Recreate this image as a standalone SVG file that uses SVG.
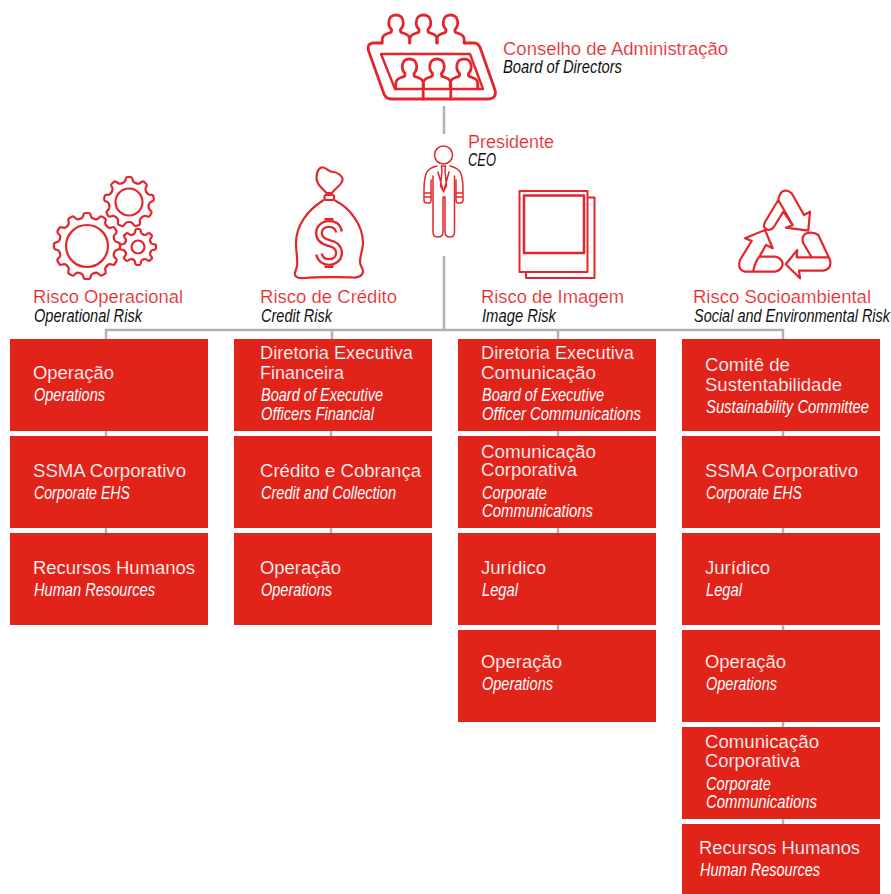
<svg xmlns="http://www.w3.org/2000/svg" xmlns:xlink="http://www.w3.org/1999/xlink" width="891" height="894" viewBox="0 0 891 894">
<style>
text{font-family:"Liberation Sans",Arial,sans-serif;font-size:18px}
.r{fill:#e3262b;stroke:#fff;stroke-width:.2}.k{fill:#111;font-style:italic}.w{fill:#fff;stroke:#e2231a;stroke-width:.2}.i{fill:#fff;font-style:italic}
.b{fill:#e2231a}.ic{fill:none;stroke:#e3262b;stroke-width:2.2;stroke-linejoin:round;stroke-linecap:round}
.th{stroke-width:1.5}.hv{stroke-width:2.8}
.c{fill:none;stroke:#adb3b8;stroke-width:2.5}
</style>
<defs>
<path id="t1" d="M-7.25-27.05Q-5-27.5-4.2-29L-3.4-31.6Q-3-33-1.6-33H1.6Q3-33 3.4-31.6L4.2-29Q5-27.5 7.25-27.05"/>
<path id="t2" d="M-6.84-18.8Q-4.4-19.5-3.8-21.3L-3.1-23.8Q-2.7-25-1.4-25H1.4Q2.7-25 3.1-23.8L3.8-21.3Q4.4-19.5 6.84-18.8"/>
<path id="t3" d="M-5.17-12.47Q-3.4-13-3-14.5L-2.6-16.7Q-2.3-18-1.2-18H1.2Q2.3-18 2.6-16.7L3-14.5Q3.4-13 5.17-12.47"/>
<path id="p" d="M-4.500 6.500C-7 4-7.500 0-7-2.500C-6.500-6-3.500-8 0-8C3.500-8 6.500-6 7-2.500C7.500 0 7 4 4.500 6.500V8Q4.500 9.500 7 10L9.500 11Q14 12.500 13.800 18V20M-4.500 6.500V8Q-4.500 9.500-7 10L-9.500 11Q-14 12.500-13.800 18V20"/>
</defs>
<g id="connectors" class="c">
<path d="M444 106V134M444 256V330M106 339V330H783V339M332 330V339M558 330V339"/>
<path d="M106 431V436M106 528V533M331 431V436M331 528V533M558 431V436M558 528V533M558 625V630M783 431V436M783 528V533M783 625V630M783 722V727M783 819V824"/>
</g>
<g id="board">
<g class="ic hv">
<path d="M382 43H373Q366 44 369 52L384 94Q386 99 391 99H489Q497 98 495 90L481 50Q479 43 474 43H464"/>
<path d="M381 54H470L483 89H395Z" stroke-width="2.400"/>
<use xlink:href="#p" x="396" y="23"/><use xlink:href="#p" x="423.500" y="23"/><use xlink:href="#p" x="450.500" y="23"/>
<use xlink:href="#p" x="409.500" y="67"/><use xlink:href="#p" x="437" y="67"/><use xlink:href="#p" x="464" y="67"/>
<path d="M395.700 87V89M423.200 87V99M450.800 87V99M477.800 87V89"/>
</g>
<text class="r" x="503" y="55" textLength="225" lengthAdjust="spacingAndGlyphs">Conselho de Administração</text>
<text class="k" x="503" y="73" textLength="119" lengthAdjust="spacingAndGlyphs">Board of Directors</text>
</g>
<g id="ceo">
<g class="ic th">
<circle cx="443.500" cy="155" r="9"/>
<path d="M437 166Q428 168 426 174Q424 180 424 190V200Q424 203 427 203H429Q431 203 431 200V180M450 166Q459 168 461 174Q463 180 463 190V200Q463 203 460 203H458Q456 203 456 200V180"/>
<path d="M433 176V232Q433 237 438 237Q443 237 443 232V197H445V232Q445 237 450 237Q454.500 237 454.500 232V176"/>
<path d="M424.500 193H431M456 193H462.500M424.500 197H431M456 197H462.500M438 172L443.500 192L449 172M441.500 166H445.500L445 171L446.500 186L443.500 191L440.500 186L442 171Z"/>
</g>
<text class="r" x="468" y="148" textLength="86" lengthAdjust="spacingAndGlyphs">Presidente</text>
<text class="k" x="468" y="166" textLength="28" lengthAdjust="spacingAndGlyphs">CEO</text>
</g>
<g id="risk-operational">
<g class="ic">
<g transform="translate(87 246)"><circle r="21"/><use xlink:href="#t1"/><use xlink:href="#t1" transform="rotate(30)"/><use xlink:href="#t1" transform="rotate(60)"/><use xlink:href="#t1" transform="rotate(90)"/><use xlink:href="#t1" transform="rotate(120)"/><use xlink:href="#t1" transform="rotate(150)"/><use xlink:href="#t1" transform="rotate(180)"/><use xlink:href="#t1" transform="rotate(210)"/><use xlink:href="#t1" transform="rotate(240)"/><use xlink:href="#t1" transform="rotate(270)"/><use xlink:href="#t1" transform="rotate(300)"/><use xlink:href="#t1" transform="rotate(330)"/></g>
<g transform="translate(129 202)"><circle r="13.500"/><use xlink:href="#t2"/><use xlink:href="#t2" transform="rotate(40)"/><use xlink:href="#t2" transform="rotate(80)"/><use xlink:href="#t2" transform="rotate(120)"/><use xlink:href="#t2" transform="rotate(160)"/><use xlink:href="#t2" transform="rotate(200)"/><use xlink:href="#t2" transform="rotate(240)"/><use xlink:href="#t2" transform="rotate(280)"/><use xlink:href="#t2" transform="rotate(320)"/></g>
<g transform="translate(138 247)"><circle r="6.500"/><use xlink:href="#t3"/><use xlink:href="#t3" transform="rotate(45)"/><use xlink:href="#t3" transform="rotate(90)"/><use xlink:href="#t3" transform="rotate(135)"/><use xlink:href="#t3" transform="rotate(180)"/><use xlink:href="#t3" transform="rotate(225)"/><use xlink:href="#t3" transform="rotate(270)"/><use xlink:href="#t3" transform="rotate(315)"/></g>
</g>
<text class="r" x="33" y="303" textLength="150" lengthAdjust="spacingAndGlyphs">Risco Operacional</text>
<text class="k" x="34" y="322" textLength="108" lengthAdjust="spacingAndGlyphs">Operational Risk</text>
</g>
<g id="risk-credit">
<g class="ic">
<path d="M326.500 193C322 188 316 184 316.500 177C317 171 319 167 323 167.500C327 168 329 172 333 172C337 172 343 176 342.500 180C342 185 335 188 332 193Z"/>
<rect x="324.500" y="195" width="9.500" height="5" rx="1.500"/>
<path d="M323 200.500C308 210 296 225 296 243C296 252 298 259 297 266C296 271 294 273 295 275C296 278 300 278.500 305 278C315 277 345 277 353 277.500C359 278 363 275 363 271.500C363 268 360 266 360 262C360 255 363 250 363 243C363 225 350 208 335 200.500"/>
<path d="M339 232C338 226 334 224 329 224C323 224 319 228 319 233C319 240 325 242 329 243C334 244 339 247 339 253C339 258 335 262 329 262C324 262 320 259 319 254" stroke-width="8" stroke-linecap="butt"/>
<path d="M339 232C338 226 334 224 329 224C323 224 319 228 319 233C319 240 325 242 329 243C334 244 339 247 339 253C339 258 335 262 329 262C324 262 320 259 319 254" stroke="#fff" stroke-width="3.400" stroke-linecap="butt"/>
<path d="M325.500 220V219H332.500V220M325.500 266V267H332.500V266"/>
</g>
<text class="r" x="260" y="303" textLength="137" lengthAdjust="spacingAndGlyphs">Risco de Crédito</text>
<text class="k" x="261" y="322" textLength="71" lengthAdjust="spacingAndGlyphs">Credit Risk</text>
</g>
<g id="risk-image">
<g class="ic" stroke-linecap="butt">
<rect x="519.500" y="191" width="68" height="81" style="stroke-width:2"/>
<rect x="524" y="195.500" width="60" height="57.500" style="stroke-width:2.500"/>
<path d="M589 197.500H594.500V278H526V273" style="stroke-width:2"/>
</g>
<text class="r" x="481" y="303" textLength="143" lengthAdjust="spacingAndGlyphs">Risco de Imagem</text>
<text class="k" x="482" y="322" textLength="74" lengthAdjust="spacingAndGlyphs">Image Risk</text>
</g>
<g id="risk-social">
<g class="ic">
<path d="M778.300 200L765 222Q762 228 768 230Q772 230 774 226.700L783.300 211.700L792.700 225L786 227.700L808.300 230.700L810 211.700L804 215L791.700 193.300Q788 190 785 190.700Q780 191 778.300 200L792.700 225"/>
<path d="M751.700 241L740 260Q737 270 745 271.700H775Q782 270 782.700 264Q782 258 775 256.700H759.300L766 245L772.700 248.300L765 230L745 238.300L751.700 241M753.300 270.700Q755 262 759.300 256.700"/>
<path d="M785.700 264.300L797.300 250L796.700 257.300H811.700L803.300 243.300Q801 236 806 233.500Q813 231 818.300 235L830 260Q832 269 823.300 270.700H799L800 278.300ZM811.700 257.300H829"/>
</g>
<text class="r" x="693" y="303" textLength="178" lengthAdjust="spacingAndGlyphs">Risco Socioambiental</text>
<text class="k" x="694" y="322" textLength="196" lengthAdjust="spacingAndGlyphs">Social and Environmental Risk</text>
</g>
<g id="n11"><rect class="b" x="10" y="339" width="198" height="92"/><text class="w" x="33" y="379" textLength="81" lengthAdjust="spacingAndGlyphs">Operação</text><text class="i" x="34" y="401" textLength="71" lengthAdjust="spacingAndGlyphs">Operations</text></g>
<g id="n12"><rect class="b" x="10" y="436" width="198" height="92"/><text class="w" x="33" y="477" textLength="153" lengthAdjust="spacingAndGlyphs">SSMA Corporativo</text><text class="i" x="34" y="499" textLength="96" lengthAdjust="spacingAndGlyphs">Corporate EHS</text></g>
<g id="n13"><rect class="b" x="10" y="533" width="198" height="92"/><text class="w" x="33" y="574" textLength="162" lengthAdjust="spacingAndGlyphs">Recursos Humanos</text><text class="i" x="34" y="596" textLength="121" lengthAdjust="spacingAndGlyphs">Human Resources</text></g>
<g id="n21"><rect class="b" x="234" y="339" width="198" height="92"/><text class="w" x="260" y="359" textLength="153" lengthAdjust="spacingAndGlyphs">Diretoria Executiva</text><text class="w" x="260" y="379" textLength="84" lengthAdjust="spacingAndGlyphs">Financeira</text><text class="i" x="261" y="401" textLength="122" lengthAdjust="spacingAndGlyphs">Board of Executive</text><text class="i" x="261" y="420" textLength="113" lengthAdjust="spacingAndGlyphs">Officers Financial</text></g>
<g id="n22"><rect class="b" x="234" y="436" width="198" height="92"/><text class="w" x="260" y="477" textLength="161" lengthAdjust="spacingAndGlyphs">Crédito e Cobrança</text><text class="i" x="261" y="499" textLength="135" lengthAdjust="spacingAndGlyphs">Credit and Collection</text></g>
<g id="n23"><rect class="b" x="234" y="533" width="198" height="92"/><text class="w" x="260" y="574" textLength="81" lengthAdjust="spacingAndGlyphs">Operação</text><text class="i" x="261" y="596" textLength="71" lengthAdjust="spacingAndGlyphs">Operations</text></g>
<g id="n31"><rect class="b" x="458" y="339" width="198" height="92"/><text class="w" x="481" y="359" textLength="153" lengthAdjust="spacingAndGlyphs">Diretoria Executiva</text><text class="w" x="481" y="379" textLength="115" lengthAdjust="spacingAndGlyphs">Comunicação</text><text class="i" x="482" y="401" textLength="122" lengthAdjust="spacingAndGlyphs">Board of Executive</text><text class="i" x="482" y="420" textLength="159" lengthAdjust="spacingAndGlyphs">Officer Communications</text></g>
<g id="n32"><rect class="b" x="458" y="436" width="198" height="92"/><text class="w" x="481" y="458" textLength="115" lengthAdjust="spacingAndGlyphs">Comunicação</text><text class="w" x="481" y="476" textLength="96" lengthAdjust="spacingAndGlyphs">Corporativa</text><text class="i" x="482" y="499" textLength="65" lengthAdjust="spacingAndGlyphs">Corporate</text><text class="i" x="482" y="517" textLength="111" lengthAdjust="spacingAndGlyphs">Communications</text></g>
<g id="n33"><rect class="b" x="458" y="533" width="198" height="92"/><text class="w" x="481" y="574" textLength="65" lengthAdjust="spacingAndGlyphs">Jurídico</text><text class="i" x="482" y="596" textLength="36" lengthAdjust="spacingAndGlyphs">Legal</text></g>
<g id="n34"><rect class="b" x="458" y="630" width="198" height="92"/><text class="w" x="481" y="668" textLength="81" lengthAdjust="spacingAndGlyphs">Operação</text><text class="i" x="482" y="690" textLength="71" lengthAdjust="spacingAndGlyphs">Operations</text></g>
<g id="n41"><rect class="b" x="682" y="339" width="198" height="92"/><text class="w" x="705" y="371" textLength="85" lengthAdjust="spacingAndGlyphs">Comitê de</text><text class="w" x="705" y="391" textLength="137" lengthAdjust="spacingAndGlyphs">Sustentabilidade</text><text class="i" x="706" y="413" textLength="163" lengthAdjust="spacingAndGlyphs">Sustainability Committee</text></g>
<g id="n42"><rect class="b" x="682" y="436" width="198" height="92"/><text class="w" x="705" y="477" textLength="153" lengthAdjust="spacingAndGlyphs">SSMA Corporativo</text><text class="i" x="706" y="499" textLength="96" lengthAdjust="spacingAndGlyphs">Corporate EHS</text></g>
<g id="n43"><rect class="b" x="682" y="533" width="198" height="92"/><text class="w" x="705" y="574" textLength="65" lengthAdjust="spacingAndGlyphs">Jurídico</text><text class="i" x="706" y="596" textLength="36" lengthAdjust="spacingAndGlyphs">Legal</text></g>
<g id="n44"><rect class="b" x="682" y="630" width="198" height="92"/><text class="w" x="705" y="668" textLength="81" lengthAdjust="spacingAndGlyphs">Operação</text><text class="i" x="706" y="690" textLength="71" lengthAdjust="spacingAndGlyphs">Operations</text></g>
<g id="n45"><rect class="b" x="682" y="727" width="198" height="92"/><text class="w" x="705" y="748" textLength="114" lengthAdjust="spacingAndGlyphs">Comunicação</text><text class="w" x="705" y="767" textLength="95" lengthAdjust="spacingAndGlyphs">Corporativa</text><text class="i" x="706" y="790" textLength="65" lengthAdjust="spacingAndGlyphs">Corporate</text><text class="i" x="706" y="808" textLength="111" lengthAdjust="spacingAndGlyphs">Communications</text></g>
<g id="n46"><rect class="b" x="682" y="824" width="198" height="70"/><text class="w" x="699" y="854" textLength="161" lengthAdjust="spacingAndGlyphs">Recursos Humanos</text><text class="i" x="700" y="876" textLength="120" lengthAdjust="spacingAndGlyphs">Human Resources</text></g>
</svg>
